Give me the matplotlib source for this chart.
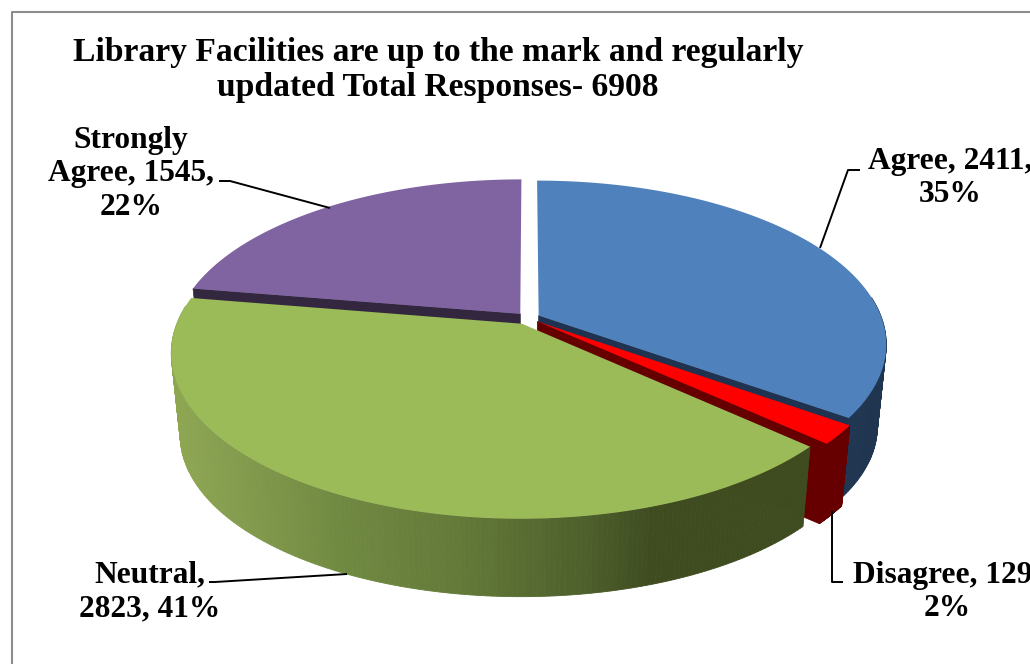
import numpy as np
import matplotlib
matplotlib.use('Agg')
import matplotlib.pyplot as plt
from matplotlib.colors import to_rgb

# Data
categories = ['Agree', 'Disagree', 'Neutral', 'Strongly Agree']
values = [2411, 129, 2823, 1545]
percents = [35, 2, 41, 22]
label_texts = ['Agree, 2411,\n35%', 'Disagree, 129,\n2%', 'Neutral,\n2823, 41%', 'Strongly\nAgree, 1545,\n22%']
title_text = 'Library Facilities are up to the mark and regularly\nupdated Total Responses- 6908'

top_colors = ['#4f81bd', '#ff0000', '#9bbb59', '#8064a2']
edge_colors = ['#1f3350', '#660000', '#3d4c20', '#33263f']
wall_colors = ['#1f3550', '#660000', None, '#33263f']

# pixel layout of the tilted pie
CX, CY = 528, 318
A, B, K = 343, 159, 0.173
DEPTH, SHRINK = 83, 0.975
EXPLODE = [0.035, 0.035, 0.04, 0.035]
FONT = ['Liberation Serif', 'DejaVu Serif']


def project(u, v, bottom=False):
    # perspective view of the pie disc
    w = 1 + K * v
    s = SHRINK if bottom else 1.0
    x = CX + s * A * u / w
    y = CY + s * B * (-v) / w + (DEPTH if bottom else 0)
    return x, y


def green_wall(x):
    stops_x = [178, 212, 338, 465, 591, 654, 810]
    stops = [to_rgb(c) for c in ['#8ea652', '#87a050', '#718a42', '#637939', '#4d5f2b', '#3f4c20', '#3f4c20']]
    return tuple(np.interp(x, stops_x, [c[i] for c in stops]) for i in range(3))


fig = plt.figure(figsize=(10.3, 6.64), dpi=100)
ax = fig.add_axes([0, 0, 1, 1])
ax.set_xlim(0, 1030)
ax.set_ylim(664, 0)
ax.axis('off')

# outer chart border
ax.plot([11.5, 11.5, 1030], [664, 12, 12], color='#8c8c8c', lw=1.5)

# slice angles, clockwise from 12 o'clock
frac = np.array(values) / sum(values)
ends = 90 - 360 * np.cumsum(frac)
starts = np.concatenate([[90], ends[:-1]])

slices = []
for i in range(len(values)):
    mid = np.radians((starts[i] + ends[i]) / 2)
    slices.append((i, np.radians(starts[i]), np.radians(ends[i]),
                   EXPLODE[i] * np.cos(mid), EXPLODE[i] * np.sin(mid)))

# paint back slices first
for i, a_hi, a_lo, du, dv in [slices[3], slices[0], slices[1], slices[2]]:
    angs = np.linspace(a_hi, a_lo, 200)
    u = du + np.cos(angs)
    v = dv + np.sin(angs)

    # cut faces that look toward the viewer
    for a, normal in [(a_hi, a_hi + np.pi / 2), (a_lo, a_lo - np.pi / 2)]:
        if np.sin(normal) < -1e-6:
            x0, y0 = project(du, dv)
            x1, y1 = project(du + np.cos(a), dv + np.sin(a))
            x2, y2 = project(du + np.cos(a), dv + np.sin(a), bottom=True)
            x3, y3 = project(du, dv, bottom=True)
            ax.fill([x0, x1, x2, x3], [y0, y1, y2, y3], color=edge_colors[i], lw=0.5)

    # outer wall, only the part facing front
    xt, yt = project(u, v)
    xb, yb = project(u, v, bottom=True)
    idx = np.where(np.sin(angs) < 0.12)[0]
    for j in idx[:-1]:
        col = green_wall(xt[j]) if wall_colors[i] is None else wall_colors[i]
        ax.fill([xt[j], xt[j + 1], xb[j + 1], xb[j]],
                [yt[j], yt[j + 1], yb[j + 1], yb[j]], color=col, lw=0.6)

    # top face
    x0, y0 = project(du, dv)
    ax.fill(np.r_[x0, xt], np.r_[y0, yt], color=top_colors[i], lw=0)

# leader lines
leaders = [([820, 848, 860], [248, 170, 170]),
           ([832, 832, 843], [511, 582, 582]),
           ([347, 215, 209], [574, 582, 582]),
           ([330, 230, 219], [208, 181, 181])]
for lx, ly in leaders:
    ax.plot(lx, ly, color='black', lw=1.4, solid_capstyle='butt')

# title and data labels
ax.text(438, 70, title_text, ha='center', va='center', fontsize=24.2, fontweight='bold',
        family=FONT, linespacing=1.14)
label_pos = [(950, 178), (947, 592), (150, 592), (131, 174)]
for (tx, ty), txt in zip(label_pos, label_texts):
    ax.text(tx, ty, txt, ha='center', va='center', fontsize=22.6, fontweight='bold',
            family=FONT, linespacing=1.2, clip_on=True)

fig.savefig('out.png', dpi=100)
